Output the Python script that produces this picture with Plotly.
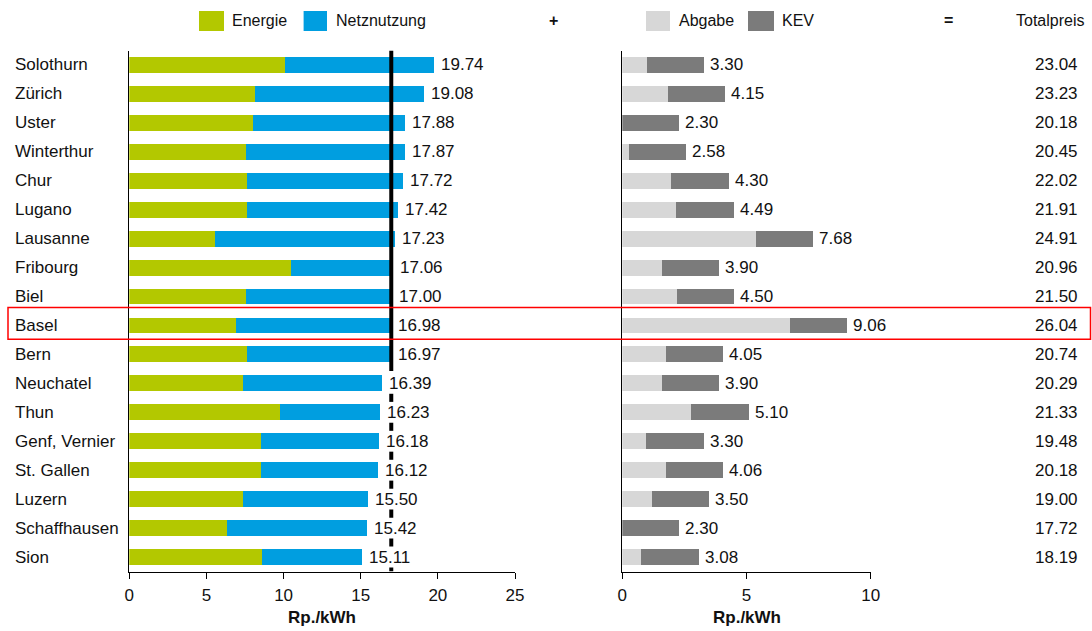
import plotly.graph_objects as go

# Electricity price per city (Rp./kWh)
cities = ["Solothurn", "Zürich", "Uster", "Winterthur", "Chur", "Lugano", "Lausanne",
          "Fribourg", "Biel", "Basel", "Bern", "Neuchatel", "Thun", "Genf, Vernier",
          "St. Gallen", "Luzern", "Schaffhausen", "Sion"]
energie_netz = [19.74, 19.08, 17.88, 17.87, 17.72, 17.42, 17.23, 17.06, 17.00, 16.98,
                16.97, 16.39, 16.23, 16.18, 16.12, 15.50, 15.42, 15.11]
energie = [10.08, 8.14, 7.99, 7.56, 7.66, 7.62, 5.55, 10.47, 7.56, 6.89,
           7.64, 7.34, 9.74, 8.53, 8.53, 7.38, 6.33, 8.59]
abgaben_kev = [3.30, 4.15, 2.30, 2.58, 4.30, 4.49, 7.68, 3.90, 4.50, 9.06,
               4.05, 3.90, 5.10, 3.30, 4.06, 3.50, 2.30, 3.08]
abgabe = [0.98, 1.86, 0.00, 0.28, 1.97, 2.17, 5.38, 1.59, 2.19, 6.77,
          1.76, 1.59, 2.78, 0.97, 1.76, 1.21, 0.00, 0.77]
totalpreis = [23.04, 23.23, 20.18, 20.45, 22.02, 21.91, 24.91, 20.96, 21.50, 26.04,
              20.74, 20.29, 21.33, 19.48, 20.18, 19.00, 17.72, 18.19]
highlight = "Basel"

netz = [round(t - e, 2) for t, e in zip(energie_netz, energie)]
kev = [round(t - a, 2) for t, a in zip(abgaben_kev, abgabe)]

W, H = 1092, 631
GREEN, BLUE = "#B3C800", "#009EE0"
LGRAY, DGRAY = "#D7D7D7", "#7B7B7B"
FONT = "Liberation Sans, Arial, sans-serif"

ypos = list(range(len(cities)))
ref_idx = cities.index(highlight)
ref_val = energie_netz[ref_idx]

def px_x(p):
    return p / W

def px_y(p):
    return 1 - p / H

fig = go.Figure()
bw = 0.55
fig.add_trace(go.Bar(x=energie, y=ypos, orientation="h", marker_color=GREEN, width=bw,
                     marker_line_width=0, xaxis="x", yaxis="y", name="Energie"))
fig.add_trace(go.Bar(x=netz, y=ypos, orientation="h", marker_color=BLUE, width=bw,
                     marker_line_width=0, xaxis="x", yaxis="y", name="Netznutzung"))
fig.add_trace(go.Bar(x=abgabe, y=ypos, orientation="h", marker_color=LGRAY, width=bw,
                     marker_line_width=0, xaxis="x2", yaxis="y2", name="Abgabe"))
fig.add_trace(go.Bar(x=kev, y=ypos, orientation="h", marker_color=DGRAY, width=bw,
                     marker_line_width=0, xaxis="x2", yaxis="y2", name="KEV"))

ydom = [px_y(571.5), px_y(50.5)]
dom1 = [px_x(129.3), px_x(515.0)]
dom2 = [px_x(622.3), px_x(870.7)]

axis_common = dict(showgrid=False, zeroline=False, showline=True, linecolor="black",
                   linewidth=1.3, ticks="outside", ticklen=6, tickwidth=1.3,
                   tickcolor="black", tickfont=dict(size=17, color="#111"),
                   ticklabelstandoff=2, automargin=False, fixedrange=True)
yaxis_common = dict(showgrid=False, zeroline=False, showline=True, linecolor="black",
                    linewidth=1.3, ticks="", showticklabels=False,
                    range=[len(cities) - 0.5, -0.5], domain=ydom, automargin=False)

fig.update_layout(
    width=W, height=H,
    margin=dict(l=0, r=0, t=0, b=0),
    paper_bgcolor="white", plot_bgcolor="white",
    font=dict(family=FONT, size=17, color="#111"),
    barmode="stack", showlegend=False,
    xaxis=dict(domain=dom1, range=[0, 25], tickvals=[0, 5, 10, 15, 20, 25], **axis_common),
    xaxis2=dict(domain=dom2, range=[0, 10], tickvals=[0, 5, 10], **axis_common),
    yaxis=dict(anchor="x", **yaxis_common),
    yaxis2=dict(anchor="x2", **yaxis_common),
)

ann = []
# city names
for i, c in enumerate(cities):
    ann.append(dict(x=px_x(13), y=i, xref="paper", yref="y", text=c, showarrow=False,
                    xanchor="left", yanchor="middle", font=dict(size=17)))
# value labels
for i in ypos:
    ann.append(dict(x=energie_netz[i], y=i, xref="x", yref="y", text=f"{energie_netz[i]:.2f}",
                    showarrow=False, xanchor="left", yanchor="middle", xshift=5,
                    font=dict(size=17)))
    ann.append(dict(x=abgaben_kev[i], y=i, xref="x2", yref="y2", text=f"{abgaben_kev[i]:.2f}",
                    showarrow=False, xanchor="left", yanchor="middle", xshift=4,
                    font=dict(size=17)))
    ann.append(dict(x=px_x(1079.5), y=i, xref="paper", yref="y", text=f"{totalpreis[i]:.2f}",
                    showarrow=False, xanchor="right", yanchor="middle", font=dict(size=17)))
# axis titles
for dom in (dom1, dom2):
    ann.append(dict(x=(dom[0] + dom[1]) / 2, y=px_y(617), xref="paper", yref="paper",
                    text="<b>Rp./kWh</b>", showarrow=False, xanchor="center",
                    yanchor="middle", font=dict(size=17)))

# header legend
shapes = []
leg_y0, leg_y1 = px_y(31), px_y(11)
legend_items = [(199, 224, GREEN, 231, "Energie"), (303.6, 327, BLUE, 335, "Netznutzung"),
                (646, 670, LGRAY, 678, "Abgabe"), (748, 774, DGRAY, 781, "KEV")]
for x0, x1, col, tx, label in legend_items:
    shapes.append(dict(type="rect", xref="paper", yref="paper", x0=px_x(x0), x1=px_x(x1),
                       y0=leg_y0, y1=leg_y1, fillcolor=col, line=dict(width=0)))
    ann.append(dict(x=px_x(tx - 1), y=px_y(21), xref="paper", yref="paper", text=label,
                    showarrow=False, xanchor="left", yanchor="middle", font=dict(size=16)))
for cx, sym in ((553, "<b>+</b>"), (948, "<b>=</b>")):
    ann.append(dict(x=px_x(cx), y=px_y(21), xref="paper", yref="paper", text=sym,
                    showarrow=False, xanchor="center", yanchor="middle", font=dict(size=16)))
ann.append(dict(x=px_x(1014), y=px_y(21), xref="paper", yref="paper", text="Totalpreis",
                showarrow=False, xanchor="left", yanchor="middle", font=dict(size=16)))

# reference line at the highlighted city's value: solid above, dashed below
shapes.append(dict(type="line", xref="x", yref="y", x0=ref_val, x1=ref_val,
                   y0=-0.5, y1=ref_idx + 1.57, line=dict(color="black", width=4)))
for k in range(ref_idx + 2, len(cities)):
    g = k + 0.5
    shapes.append(dict(type="line", xref="x", yref="y", x0=ref_val, x1=ref_val,
                       y0=g - 0.14, y1=min(g + 0.14, len(cities) - 0.5),
                       line=dict(color="black", width=4)))

# highlight frame around the selected city
shapes.append(dict(type="rect", xref="paper", yref="y", x0=px_x(8), x1=px_x(1090.5),
                   y0=ref_idx - 0.625, y1=ref_idx + 0.48,
                   line=dict(color="#FF0000", width=1.5), fillcolor="rgba(0,0,0,0)"))

fig.update_layout(annotations=ann, shapes=shapes)
fig.write_html("out.html")
